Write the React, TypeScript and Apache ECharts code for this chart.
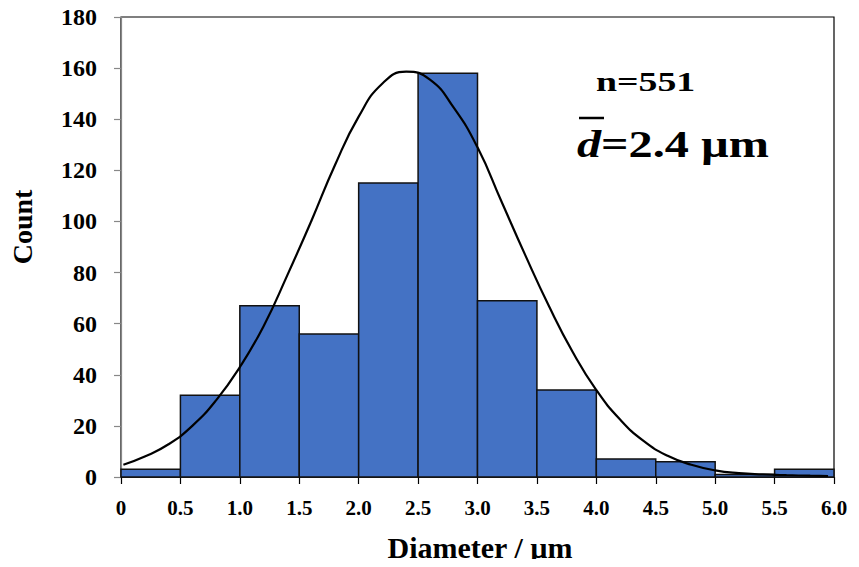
import React, { useEffect, useRef } from "react";
import * as echarts from "echarts";

// Histogram bins (µm) and counts
const binStarts = [0, 0.5, 1.0, 1.5, 2.0, 2.5, 3.0, 3.5, 4.0, 4.5, 5.0, 5.5];
const binWidth = 0.5;
const counts = [3, 32, 67, 56, 115, 158, 69, 34, 7, 6, 1, 3];

// Fitted distribution curve: [diameter, count]
const curveX = [0.02, 0.2, 0.4, 0.6, 0.8, 1.0, 1.2, 1.4, 1.6, 1.8, 2.0, 2.2, 2.4, 2.6, 2.8, 3.0, 3.2, 3.4, 3.6, 3.8, 4.0, 4.2, 4.4, 4.6, 4.8, 5.0, 5.2, 5.4, 5.6, 5.8, 5.95];
const curveY = [4.8, 8.0, 12.8, 20, 30, 43, 59, 79, 100, 122, 141, 154, 158.6, 155.5, 144.5, 129, 108, 87, 67, 49, 34, 22.5, 14, 8.3, 4.8, 2.6, 1.5, 1.0, 0.7, 0.5, 0.4];

const xTickLabels = ["0", "0.5", "1.0", "1.5", "2.0", "2.5", "3.0", "3.5", "4.0", "4.5", "5.0", "5.5", "6.0"];
const yTickLabels = ["0", "20", "40", "60", "80", "100", "120", "140", "160", "180"];

const xTitle = "Diameter / µm";
const yTitle = "Count";
const nText = "n=551";
const meanText = "=2.4 µm";

const FONT = '"Liberation Serif", "Times New Roman", serif';

export default function App() {
  const ref = useRef<HTMLDivElement>(null);

  useEffect(() => {
    if (!ref.current) return;
    const chart = echarts.init(ref.current, undefined, { renderer: "svg" });

    const barData = binStarts.map((s, i) => [s, s + binWidth, counts[i]]);
    const lineData = curveX.map((x, i) => [x, curveY[i]]);

    chart.setOption({
      animation: false,
      backgroundColor: "#ffffff",
      grid: {
        left: 121,
        right: 25,
        top: 17,
        bottom: 90,
        show: true,
        borderColor: "#000",
        borderWidth: 1.2,
        backgroundColor: "transparent",
      },
      xAxis: {
        type: "value",
        min: 0,
        max: 6,
        interval: 0.5,
        axisLine: { show: true, lineStyle: { color: "#222", width: 1.2 } },
        axisTick: { show: true, inside: false, length: 7, lineStyle: { color: "#000", width: 1.2 } },
        splitLine: { show: false },
        axisLabel: {
          margin: 20,
          color: "#000",
          fontFamily: FONT,
          fontWeight: "bold",
          fontSize: 21,
          formatter: (v: number) => xTickLabels[Math.round(v / 0.5)] ?? "",
        },
      },
      yAxis: {
        type: "value",
        min: 0,
        max: 180,
        interval: 20,
        axisLine: { show: true, lineStyle: { color: "#888", width: 1.2 } },
        axisTick: { show: true, inside: false, length: 7, lineStyle: { color: "#888", width: 1.2 } },
        splitLine: { show: false },
        axisLabel: {
          margin: 24,
          color: "#000",
          fontFamily: FONT,
          fontWeight: "bold",
          fontSize: 24,
          formatter: (v: number) => yTickLabels[Math.round(v / 20)] ?? "",
        },
      },
      series: [
        {
          type: "custom",
          data: barData,
          encode: { x: [0, 1], y: 2 },
          z: 2,
          renderItem: (params: any, api: any) => {
            const x0 = api.value(0);
            const x1 = api.value(1);
            const v = api.value(2);
            const p0 = api.coord([x0, v]);
            const p1 = api.coord([x1, 0]);
            return {
              type: "rect",
              shape: { x: p0[0], y: p0[1], width: p1[0] - p0[0], height: p1[1] - p0[1] },
              style: { fill: "#4472C4", stroke: "#111", lineWidth: 1.5 },
            };
          },
        },
        {
          type: "line",
          data: lineData,
          smooth: 0.5,
          showSymbol: false,
          symbol: "none",
          z: 5,
          lineStyle: { color: "#000", width: 2.2 },
        },
      ],
      graphic: [
        {
          type: "text",
          x: 22,
          y: 227,
          rotation: Math.PI / 2,
          style: {
            text: yTitle,
            fontFamily: FONT,
            fontWeight: "bold",
            fontSize: 28,
            fill: "#000",
            textAlign: "center",
            textVerticalAlign: "middle",
          },
        },
        {
          type: "text",
          x: 480,
          y: 547,
          style: {
            text: xTitle,
            fontFamily: FONT,
            fontWeight: "bold",
            fontSize: 30,
            fill: "#000",
            textAlign: "center",
            textVerticalAlign: "middle",
          },
        },
        {
          type: "text",
          x: 596,
          y: 81,
          scaleX: 1.35,
          style: {
            text: nText,
            fontFamily: FONT,
            fontWeight: "bold",
            fontSize: 28,
            fill: "#000",
            textAlign: "left",
            textVerticalAlign: "middle",
          },
        },
        {
          type: "text",
          x: 577,
          y: 144,
          scaleX: 1.27,
          style: {
            text: "{i|d}" + meanText,
            fontFamily: FONT,
            fontWeight: "bold",
            fontSize: 38,
            fill: "#000",
            textAlign: "left",
            textVerticalAlign: "middle",
            rich: {
              i: {
                fontFamily: FONT,
                fontWeight: "bold",
                fontStyle: "italic",
                fontSize: 38,
                fill: "#000",
              },
            },
          },
        },
        {
          type: "line",
          shape: { x1: 579, y1: 118, x2: 604, y2: 118 },
          style: { stroke: "#000", lineWidth: 2.5 },
        },
      ],
    });

    return () => {
      chart.dispose();
    };
  }, []);

  return <div ref={ref} style={{ width: 859, height: 567, margin: -8 }} />;
}
